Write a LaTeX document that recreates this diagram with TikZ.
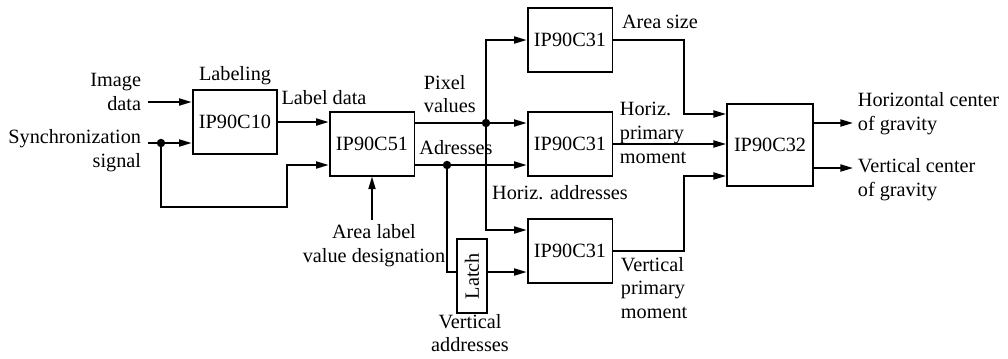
\documentclass[tikz,border=0pt]{standalone}
\usepackage{fontspec}
\setmainfont{Liberation Serif}
\usetikzlibrary{arrows.meta,calc,positioning}

\begin{document}
\begin{tikzpicture}[x=0.025cm,y=-0.025cm,>={Triangle[length=9pt,width=5pt]},line width=1.3pt,
  font={\fontsize{14.4}{16.9}\selectfont},
  chip/.style={draw,minimum width=2.12cm,minimum height=1.58cm,inner sep=0pt},
  tag/.style={inner sep=0pt}]
\useasboundingbox (0,0) rectangle (1008,358);
% chips
\node[chip] (c10) at (235,122) {IP90C10};
\node[chip] (c51) at (372,144) {IP90C51};
\node[chip] (c31a) at (570,40) {IP90C31};
\node[chip] (c31b) at (570,144) {IP90C31};
\node[chip] (c31c) at (570,251) {IP90C31};
\node[chip,minimum width=2.15cm,minimum height=2.05cm] (c32) at (770,145) {IP90C32};
\node[draw,minimum width=0.75cm,minimum height=1.83cm,inner sep=0pt] (latch) at (472,276) {\rotatebox{90}{Latch}};
% free ends and junctions
\coordinate (imgin) at (148,102);
\coordinate (syncin) at (148,143);
\coordinate (syncdot) at (161,143);
\coordinate (loop) at (287,207);
\coordinate (areain) at (372,220);
\coordinate (pixdot) at (486,123);
\coordinate (adrdot) at (447,165);
\coordinate (vin) at ($(c31c.west)+(0,21)$);
\coordinate (in1) at ($(c32.west)+(0,-31)$);
\coordinate (in3) at ($(c32.west)+(0,31)$);
\coordinate (hcg) at (853,123);
\coordinate (vcg) at (853,168);
% wires
\draw[->] (imgin) -- (imgin -| c10.west);
\draw[->] (syncin) -- (syncin -| c10.west);
\draw[->] (syncdot) |- (loop) |- ($(c51.west)+(0,21)$);
\draw[->] (c10.east) -- (c10.east -| c51.west);
\draw[->] (areain) -- (c51.south);
\draw[->] (c51.east |- pixdot) -- (pixdot -| c31b.west);
\draw[->] (c51.east |- adrdot) -- (adrdot -| c31b.west);
\draw[->] (pixdot) |- (c31a.west);
\draw[->] (pixdot) |- ($(c31c.west)+(0,-21)$);
\draw (adrdot) |- (latch.west |- vin);
\draw[->] (latch.east |- vin) -- (vin);
\draw[->] (c31a.east) -| ($(in1)+(-42,0)$) -- (in1);
\draw[->] (c31b.east) -- (c31b.east -| c32.west);
\draw[->] (c31c.east) -| ($(in3)+(-42,0)$) -- (in3);
\draw[->] (c32.east |- hcg) -- (hcg);
\draw[->] (c32.east |- vcg) -- (vcg);
\foreach \p in {syncdot,pixdot,adrdot}
  \fill (\p) circle (3pt);
% labels
\node[tag,anchor=east,align=right] (limg) at (142,92) {Image\\data};
\node[tag,anchor=east,align=right] (lsync) at (142,151) {Synchronization\\signal};
\node[tag] (llab) at (235,76) {Labeling};
\node[tag] (lld) at (324,98) {Label data};
\node[tag,anchor=west,align=left] (lpix) at (423,94) {Pixel\\values};
\node[tag] (ladr) at (456,148) {Adresses};
\node[tag,align=center] (larea) at (374,246) {Area label\\value designation};
\node[tag,align=center] (lvad) at (470,333) {Vertical\\addresses};
\node[tag] (lhad) at (560,193) {Horiz. addresses};
\node[tag] (lsize) at (660,22) {Area size};
\node[tag,anchor=west,align=left] (lhpm) at (619,133) {Horiz.\\primary\\moment};
\node[tag,anchor=west,align=left] (lvpm) at (620,288) {Vertical\\primary\\moment};
\node[tag,anchor=west,align=left] (lhcg) at (857,114) {Horizontal center\\of gravity};
\node[tag,anchor=west,align=left] (lvcg) at (857,180) {Vertical center\\of gravity};
\end{tikzpicture}
\end{document}
